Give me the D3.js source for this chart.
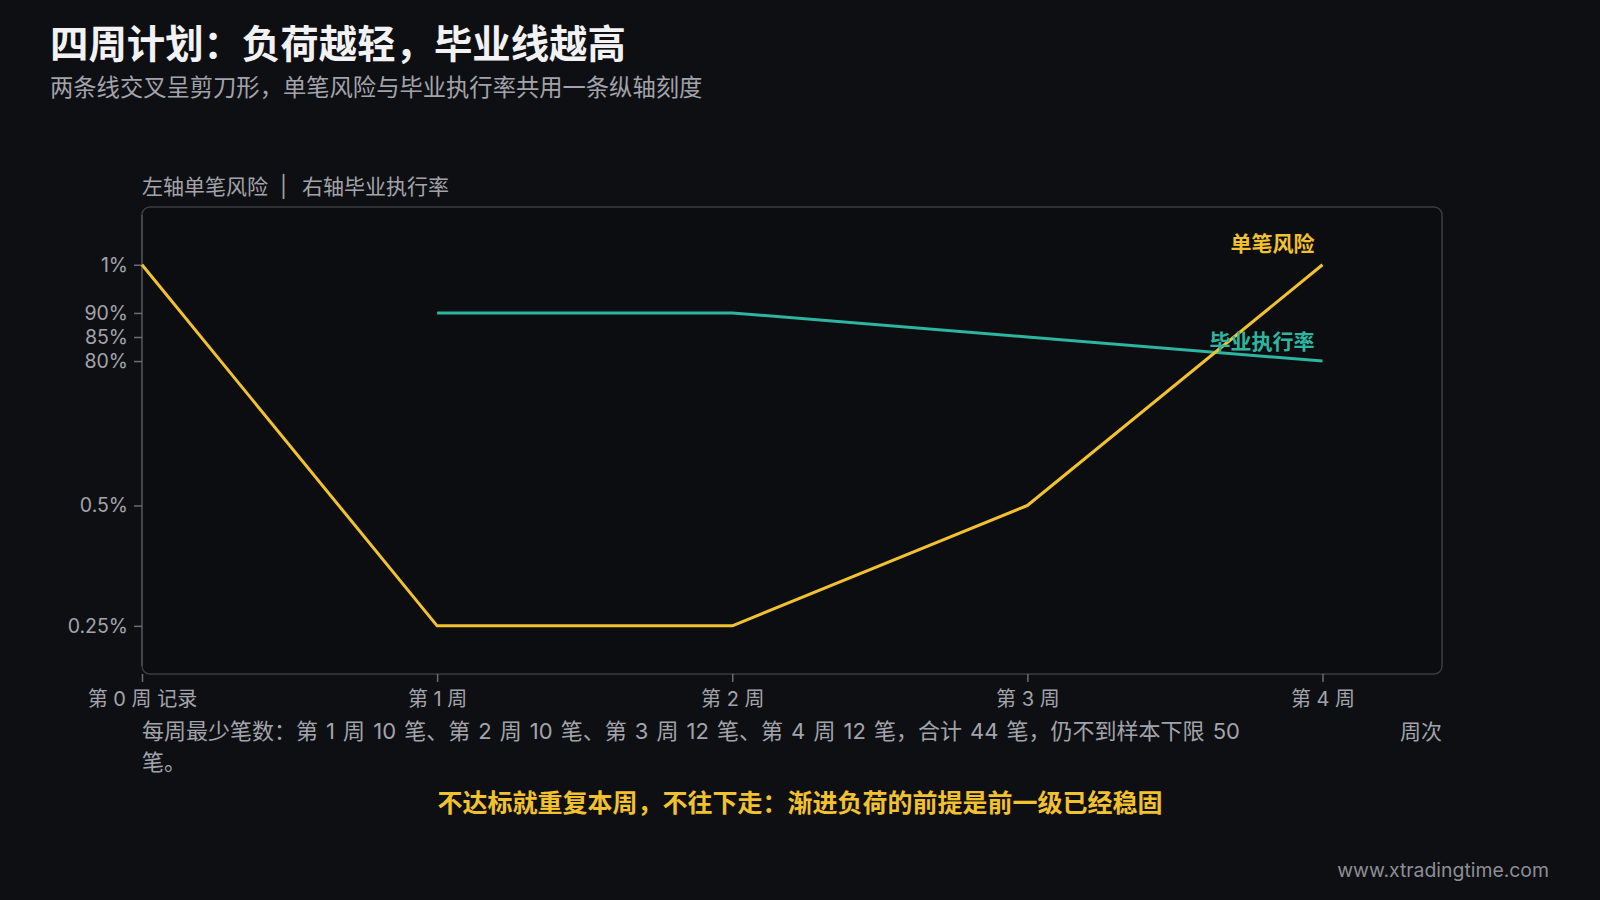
<!DOCTYPE html>
<html><head><meta charset="utf-8">
<script src="https://cdn.jsdelivr.net/npm/d3@7"></script>
<style>
html,body{margin:0;padding:0;background:#0e0f13;}
svg{display:block;}
text{font-family:"Inter","Noto Sans CJK SC",sans-serif;}
</style></head>
<body>
<svg id="chart" width="1600" height="900"></svg>
<script>
// ---- data ----
const weeks = ["第 0 周 记录", "第 1 周", "第 2 周", "第 3 周", "第 4 周"];
const riskValues = [1, 0.25, 0.25, 0.5, 1];            // 单笔风险 (%)
const completionWeeks = [1, 2, 3, 4];
const completionValues = [90, 90, 85, 80];            // 毕业执行率 (%)
const yTickValues = [0.25, 0.5, 0.8, 0.85, 0.9, 1];
const yTickLabels = ["0.25%", "0.5%", "80%", "85%", "90%", "1%"];
const titleText = "四周计划：负荷越轻，毕业线越高";
const subtitleText = "两条线交叉呈剪刀形，单笔风险与毕业执行率共用一条纵轴刻度";
const axisNoteLeft = "左轴单笔风险", axisNoteRight = "右轴毕业执行率";
const noteText = "每周最少笔数：第 1 周 10 笔、第 2 周 10 笔、第 3 周 12 笔、第 4 周 12 笔，合计 44 笔，仍不到样本下限 50 笔。";
const footerText = "不达标就重复本周，不往下走：渐进负荷的前提是前一级已经稳固";

const GOLD = "#f2c12e", TEAL = "#2db5a0", GREY = "#a3a4ab", FRAME = "#3a3c43";

const svg = d3.select("#chart");
const frame = {left:142, right:1442, top:207, bottom:674};

// scales
const x = d3.scaleLinear().domain([0, 4]).range([142, 1322.5]);
const y = d3.scaleLinear().domain([0.15, 1.12]).range([frame.bottom, frame.top]);

// titles
svg.append("text").attr("x", 50).attr("y", 58).attr("fill", "#f2f2f4")
  .attr("font-size", 38.4).attr("font-weight", 700).text(titleText);
svg.append("text").attr("x", 50).attr("y", 96).attr("fill", GREY)
  .attr("font-size", 23.3).text(subtitleText);
const an = svg.append("text").attr("y", 194).attr("fill", GREY).attr("font-size", 21);
an.append("tspan").attr("x", 142).text(axisNoteLeft);
an.append("tspan").attr("x", 280).text("|");
an.append("tspan").attr("x", 302).text(axisNoteRight);

// frame
svg.append("rect").attr("x", frame.left).attr("y", frame.top)
  .attr("width", frame.right - frame.left).attr("height", frame.bottom - frame.top)
  .attr("rx", 8).attr("fill", "#0c0d10").attr("stroke", FRAME).attr("stroke-width", 1.5);
svg.append("line").attr("x1", frame.left).attr("x2", frame.left)
  .attr("y1", frame.top + 8).attr("y2", frame.bottom - 8).attr("stroke", "#4a4c53").attr("stroke-width", 1.5);

// y axis
const yAxis = d3.axisLeft(y).tickValues(yTickValues)
  .tickFormat((d, i) => yTickLabels[i]).tickSize(8).tickPadding(6);
const gy = svg.append("g").attr("transform", `translate(${frame.left},0)`).call(yAxis);
gy.select(".domain").remove();
gy.selectAll(".tick line").attr("stroke", "#6a6c73").attr("stroke-width", 1.5);
gy.selectAll(".tick text").attr("fill", GREY).attr("font-size", 19.5)
  .attr("font-family", "Inter,'Noto Sans CJK SC',sans-serif");

// x axis
const xAxis = d3.axisBottom(x).tickValues(d3.range(weeks.length))
  .tickFormat(i => weeks[i]).tickSize(8).tickPadding(10);
const gx = svg.append("g").attr("transform", `translate(0,${frame.bottom})`).call(xAxis);
gx.select(".domain").remove();
gx.selectAll(".tick line").attr("stroke", "#6a6c73").attr("stroke-width", 1.5);
gx.selectAll(".tick text").attr("fill", GREY).attr("font-size", 20)
  .attr("font-family", "Inter,'Noto Sans CJK SC',sans-serif");

// lines
const line = d3.line().x(d => x(d[0])).y(d => y(d[1]));
const riskPts = riskValues.map((v, i) => [i, v]);
const compPts = completionWeeks.map((w, i) => [w, completionValues[i] / 100]);

svg.append("path").datum(compPts).attr("d", line).attr("fill", "none")
  .attr("stroke", TEAL).attr("stroke-width", 3).attr("stroke-linejoin", "round");
svg.append("path").datum(riskPts).attr("d", line).attr("fill", "none")
  .attr("stroke", GOLD).attr("stroke-width", 3).attr("stroke-linejoin", "round");

// line labels
const lastR = riskPts[riskPts.length - 1], lastC = compPts[compPts.length - 1];
svg.append("text").attr("x", x(lastR[0]) - 8).attr("y", y(lastR[1]) - 14)
  .attr("text-anchor", "end").attr("fill", GOLD).attr("font-size", 21).attr("font-weight", 700).text("单笔风险");
svg.append("text").attr("x", x(lastC[0]) - 8).attr("y", y(lastC[1]) - 12)
  .attr("text-anchor", "end").attr("fill", TEAL).attr("font-size", 21).attr("font-weight", 700).text("毕业执行率");

// note (wrapped)
const note = svg.append("text").attr("fill", GREY).attr("font-size", 22).attr("word-spacing", 1.9);
const noteLines = [noteText.slice(0, noteText.length - 2), noteText.slice(noteText.length - 2)];
noteLines.forEach((t, i) => note.append("tspan").attr("x", 142).attr("y", 739 + i * 31).text(t));
svg.append("text").attr("x", 1442).attr("y", 739).attr("text-anchor", "end")
  .attr("fill", GREY).attr("font-size", 21).text("周次");

// footer highlight
svg.append("text").attr("x", 800).attr("y", 812).attr("text-anchor", "middle")
  .attr("fill", GOLD).attr("font-size", 25).attr("font-weight", 700).text(footerText);

// watermark
svg.append("text").attr("x", 1549).attr("y", 877).attr("text-anchor", "end")
  .attr("fill", "#8d8e95").attr("font-size", 19.4).attr("font-family", "'Noto Sans',sans-serif")
  .text("www.xtradingtime.com");
</script>
</body></html>
